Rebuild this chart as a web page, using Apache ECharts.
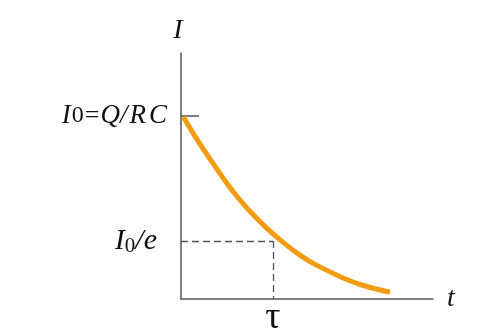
<!DOCTYPE html>
<html><head><meta charset="utf-8">
<script src="https://cdn.jsdelivr.net/npm/echarts@6/dist/echarts.min.js"></script>
<style>html,body{margin:0;padding:0;background:#fff}#c{width:502px;height:336px}</style>
</head><body><div id="c"></div>
<script>
// time in units of tau, current in units of I0
const tValues = [0.027, 0.174, 0.337, 0.500, 0.641, 0.772, 0.946, 1.130, 1.293, 1.457, 1.761, 2.0, 2.272];
const iValues = [0.995, 0.872, 0.749, 0.631, 0.541, 0.467, 0.380, 0.301, 0.240, 0.189, 0.115, 0.071, 0.037];
const tauValue = 1;
const i0Value = 1;
const iOverE = 0.317;
const xMax = 2.739;
const yMax = 1.344;

const data = tValues.map((t, k) => [t, iValues[k]]);
const serif = '"Liberation Serif","DejaVu Serif",serif';
const chart = echarts.init(document.getElementById('c'));
chart.setOption({
  animation: false,
  grid: {left: 181, right: 69, top: 53, bottom: 37, containLabel: false, outerBoundsMode: 'none'},
  xAxis: {
    type: 'value', min: 0, max: xMax,
    name: 't', nameLocation: 'end', nameGap: 14,
    nameTextStyle: {fontFamily: serif, fontStyle: 'italic', fontSize: 28, color: '#111', padding: [6, 0, 0, 0]},
    axisLine: {show: true, lineStyle: {color: '#555', width: 1.5}},
    axisTick: {show: false},
    splitLine: {show: false},
    axisLabel: {
      customValues: [tauValue], margin: 0,
      formatter: () => 'τ',
      fontFamily: serif, fontSize: 38, color: '#111'
    }
  },
  yAxis: {
    type: 'value', min: 0, max: yMax,
    name: 'I', nameLocation: 'end', nameGap: 8,
    nameTextStyle: {fontFamily: serif, fontStyle: 'italic', fontSize: 28, color: '#111', padding: [0, 6, 0, 0]},
    axisLine: {show: true, lineStyle: {color: '#555', width: 1.5}},
    axisTick: {show: true, customValues: [i0Value], inside: true, length: 18, lineStyle: {color: '#555', width: 1.5}},
    splitLine: {show: false},
    axisLabel: {
      customValues: [i0Value, iOverE], margin: 14,
      formatter: v => v === i0Value
        ? '{itI|I}{n|0}{eq|=}{it|Q}{sl|/}{itR|R}{it|C}'
        : '{it2|I}{sub|0}{it2|/e}{pad|}',
      rich: {
        itI: {fontFamily: serif, fontStyle: 'italic', fontSize: 27, color: '#111', padding: [0, 1, 0, 0]},
        it: {fontFamily: serif, fontStyle: 'italic', fontSize: 27, color: '#111'},
        itR: {fontFamily: serif, fontStyle: 'italic', fontSize: 27, color: '#111', padding: [0, 3, 0, 0]},
        sl: {fontFamily: serif, fontStyle: 'italic', fontSize: 27, color: '#111', padding: [0, 2, 0, 0]},
        n: {fontFamily: serif, fontSize: 24, color: '#111'},
        eq: {fontFamily: serif, fontSize: 26, color: '#111', padding: [0, 1, 0, 1]},
        it2: {fontFamily: serif, fontStyle: 'italic', fontSize: 30, color: '#111'},
        sub: {fontFamily: serif, fontSize: 21, color: '#111', verticalAlign: 'bottom', padding: [12, 0, 0, 0]},
        pad: {width: 10}
      }
    }
  },
  series: [{
    type: 'line', data: data, smooth: 0.4, symbol: 'none',
    lineStyle: {color: '#F39C12', width: 5},
    markLine: {
      silent: true, symbol: 'none',
      label: {show: false},
      lineStyle: {color: '#555', width: 1.3, type: [7, 4]},
      data: [
        [{coord: [0, iOverE]}, {coord: [tauValue, iOverE]}],
        [{coord: [tauValue, iOverE]}, {coord: [tauValue, 0]}]
      ]
    }
  }]
});
</script></body></html>
